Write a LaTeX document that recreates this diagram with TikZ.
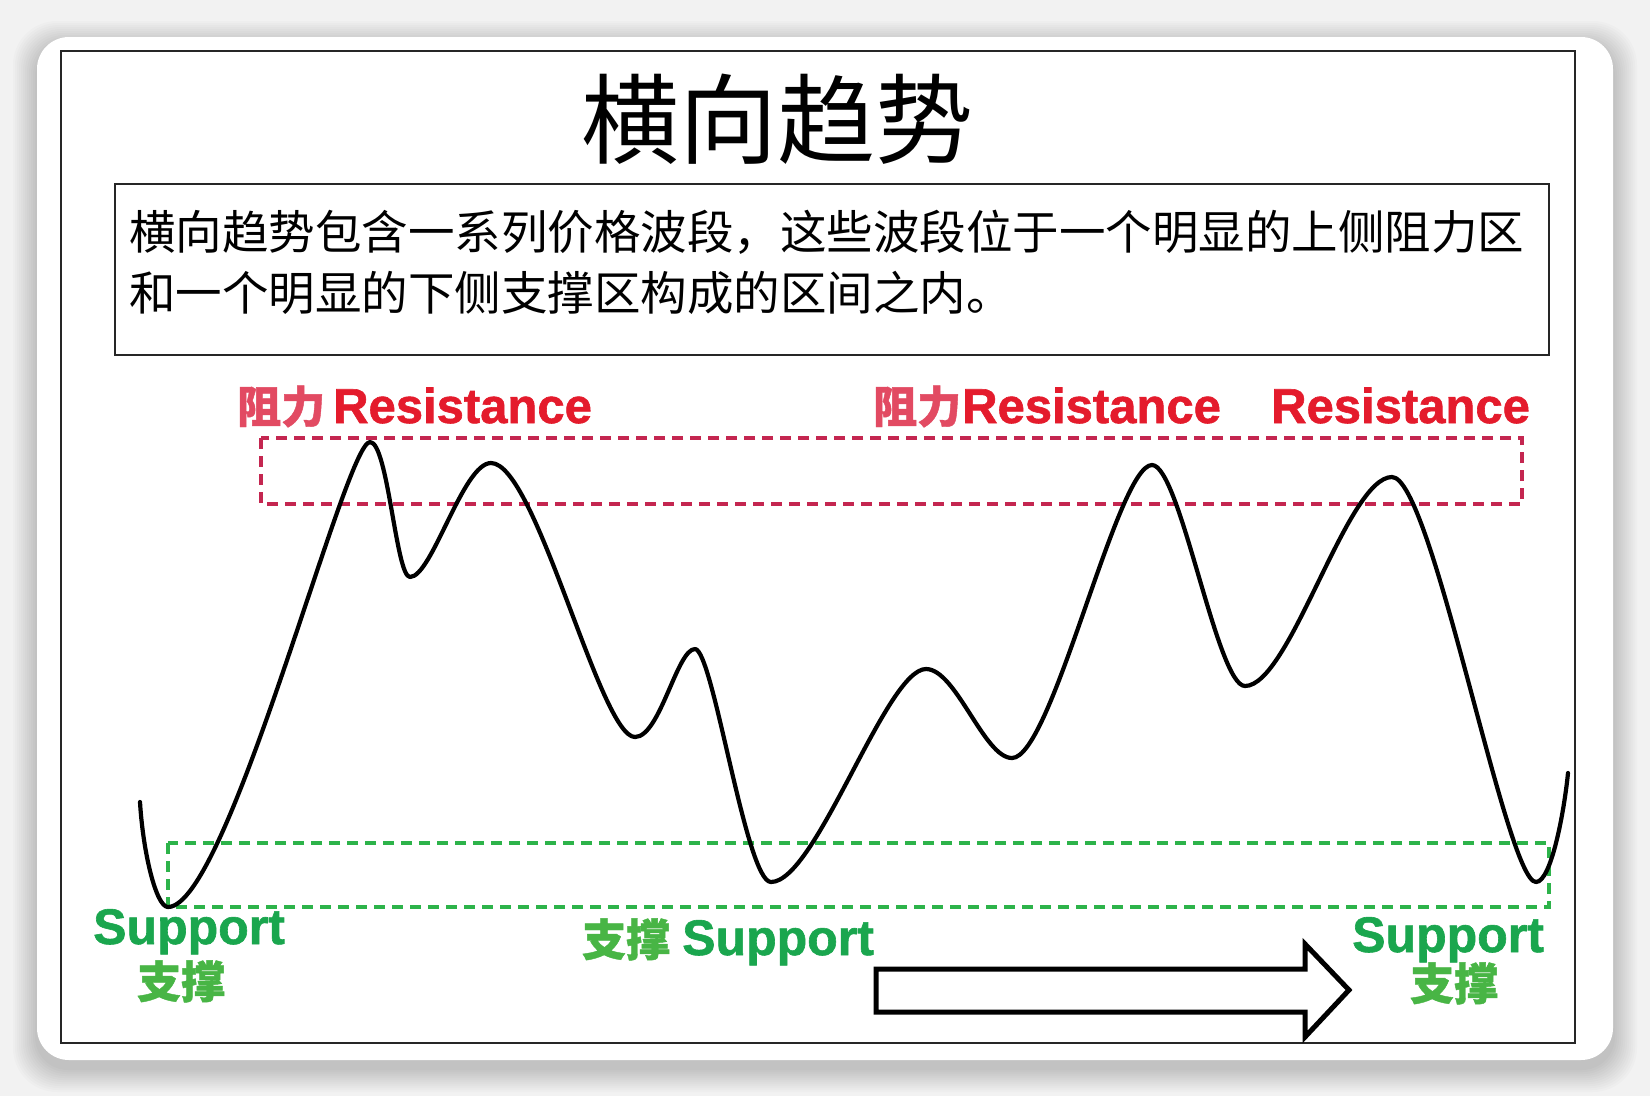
\documentclass[tikz,border=0pt]{standalone}
\usepackage{fontspec}
\setmainfont{Liberation Sans}[BoldFeatures={FakeBold=1.2}]
\newfontfamily\cjk{Noto Sans CJK SC}[BoldFeatures={FakeBold=1.0}]
\newcommand\fsz[1]{\fontsize{#1}{#1}\selectfont}
\definecolor{bgcol}{HTML}{F2F2F2}
\definecolor{resred}{HTML}{E41B2C}
\definecolor{respink}{HTML}{E24A62}
\definecolor{zonered}{HTML}{C42650}
\definecolor{zonegreen}{HTML}{2DB34A}
\definecolor{supgreen}{HTML}{1AA64E}
\definecolor{supcgreen}{HTML}{48B545}
\begin{document}
\begin{tikzpicture}[x=1pt,y=-1pt,
  lbl/.style={inner sep=0pt, anchor=base west},
  res/.style={lbl, text=resred, font=\bfseries\fsz{49}},
  resc/.style={lbl, text=respink, font=\cjk\bfseries\fsz{44}},
  sup/.style={lbl, text=supgreen, font=\bfseries\fsz{50}},
  supc/.style={lbl, text=supcgreen, font=\cjk\bfseries\fsz{44}},
  zone/.style={dash pattern=on 11pt off 7pt, line width=3.5pt},
  frame/.style={line width=2.5pt, draw=black!85},
  wave/.style={line width=4.2pt, line cap=round, line join=round}]
\useasboundingbox (0,0) rectangle (1650,1096);
\fill[bgcol] (0,0) rectangle (1650,1096);
% card shadow
\foreach \i in {1,...,12}{
  \fill[black, opacity=0.014, rounded corners={32pt+\i pt}]
    ({37-2*\i},{37-2*\i+8}) rectangle ({1613+2*\i},{1060+2*\i+8});
}
\fill[white, rounded corners=32pt] (37,37) rectangle (1613,1060);
% frames
\draw[frame] (61,51) rectangle (1575,1043);
\draw[frame] (115,184) rectangle (1549,355);
% title
\node[inner sep=0pt, font=\cjk\fsz{98}] (title) at (777,119) {横向趋势};
\node[inner sep=0pt, anchor=west, align=left, font=\cjk\fontsize{46.5}{61}\selectfont] (desc) at (129,262.5)
  {横向趋势包含一系列价格波段，这些波段位于一个明显的上侧阻力区\\和一个明显的下侧支撑区构成的区间之内。};
% zones
\draw[zone, draw=zonered] (261,438) rectangle (1522,504);
\draw[zone, draw=zonegreen] (168,843) rectangle (1549,907);
% resistance labels
\node[resc] (r1c) at (237,423) {阻力};
\node[res] (r1) at (333,423) {Resistance};
\node[resc] (r2c) at (873,423) {阻力};
\node[res] (r2) at (962,423) {Resistance};
\node[res] (r3) at (1271,423) {Resistance};
% support labels
\node[sup] (s1) at (93,944) {Support};
\node[supc] (s1c) at (137,998) {支撑};
\node[supc] (s2c) at (582,956) {支撑};
\node[sup] (s2) at (682,955) {Support};
\node[sup] (s3) at (1352,952) {Support};
\node[supc] (s3c) at (1410,1000) {支撑};
% price wave
\draw[wave] (140,802)
  .. controls +(3,50) and +(-12,0) .. (168,907)
  .. controls +(60,0) and +(-25,0) .. (370,442)
  .. controls +(18,0) and +(-14,0) .. (410,577)
  .. controls +(22,0) and +(-28,0) .. (491,463)
  .. controls +(45,0) and +(-35,0) .. (635,737)
  .. controls +(25,0) and +(-18,0) .. (695,649)
  .. controls +(18,0) and +(-25,0) .. (771,882)
  .. controls +(45,0) and +(-40,0) .. (926,669)
  .. controls +(30,0) and +(-28,0) .. (1012,758)
  .. controls +(40,0) and +(-35,0) .. (1152,465)
  .. controls +(28,0) and +(-28,0) .. (1245,686)
  .. controls +(45,0) and +(-45,0) .. (1392,477)
  .. controls +(40,0) and +(-30,0) .. (1536,882)
  .. controls +(15,0) and +(-4,40) .. (1568,773);
% trend arrow
\draw[line width=5pt, line join=miter, fill=white]
  (876,969) -- (1305,969) -- (1305,944) -- (1349,990) -- (1305,1037) -- (1305,1012) -- (876,1012) -- cycle;
\end{tikzpicture}
\end{document}
